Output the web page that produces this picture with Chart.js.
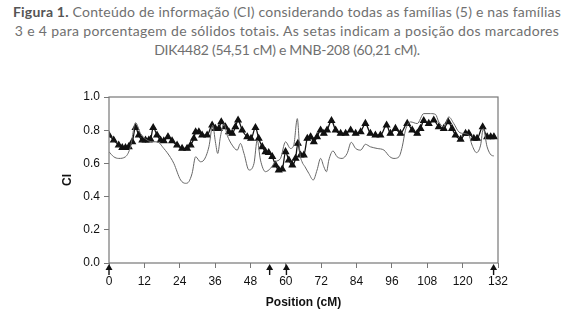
<!DOCTYPE html>
<html>
<head>
<meta charset="utf-8">
<script src="https://cdn.jsdelivr.net/npm/chart.js@4.4.1/dist/chart.umd.min.js"></script>
<style>
  html, body { margin: 0; padding: 0; background: #fff; }
  #wrap { position: relative; width: 574px; height: 322px; overflow: hidden; }
  #caption {
    position: absolute; left: 0; top: 2px; width: 574px;
    text-align: center; font-family: Lato, sans-serif; font-size: 14px;
    line-height: 19px; color: #707070;
  }
  #caption span { display: inline-block; white-space: nowrap; }
  #caption b { color: #555; }
  canvas { position: absolute; left: 0; top: 0; }
</style>
</head>
<body>
<div id="wrap">
  <div id="caption">
    <span data-w="548"><b>Figura 1.</b> Conteúdo de informação (CI) considerando todas as famílias (5) e nas famílias</span><br>
    <span data-w="544">3 e 4 para porcentagem de sólidos totais. As setas indicam a posição dos marcadores</span><br>
    <span data-w="266">DIK4482 (54,51 cM) e MNB-208 (60,21 cM).</span>
  </div>
  <canvas id="ciChart" width="574" height="322"></canvas>
</div>
<script>
// posições (cM) e valores de CI
const allPos = [0, 1.6, 3.3, 4.5, 5.6, 6.7, 7.9, 9.0, 10.1, 11.3, 12.4, 13.5, 14.1, 15.0, 16.3, 17.5, 18.6, 20.0, 21.4, 23.1,
  24.8, 26.5, 27.7, 28.8, 29.4, 30.5, 31.6, 33.3, 35.0, 36.1, 37.3, 38.1, 39.5, 40.7, 41.8, 42.9, 43.8, 45.2, 46.9, 48.2,
  49.7, 50.8, 52.0, 53.1, 54.2, 55.4, 56.5, 57.6, 58.8, 59.9, 61.0, 62.2, 63.3, 64.1, 65.0, 66.1, 67.3, 68.4, 69.5, 70.6,
  71.8, 72.9, 74.0, 75.5, 76.9, 78.6, 80.3, 82.0, 83.7, 85.4, 87.0, 88.7, 90.4, 92.1, 94.2, 95.5, 97.2, 98.9, 101.2, 102.9,
  104.6, 105.7, 106.8, 108.5, 110.2, 111.9, 113.6, 115.1, 116.4, 117.6, 119.3, 121.0, 122.1, 123.8, 124.9, 126.8, 128.3, 129.5, 130.6];
const allCI = [0.77, 0.74, 0.71, 0.695, 0.695, 0.70, 0.73, 0.815, 0.77, 0.74, 0.74, 0.74, 0.745, 0.815, 0.77, 0.74, 0.735, 0.76, 0.735, 0.71,
  0.69, 0.69, 0.71, 0.75, 0.79, 0.79, 0.77, 0.77, 0.83, 0.81, 0.81, 0.85, 0.82, 0.79, 0.78, 0.82, 0.86, 0.80, 0.76, 0.75,
  0.815, 0.75, 0.70, 0.67, 0.665, 0.64, 0.59, 0.56, 0.565, 0.67, 0.62, 0.59, 0.63, 0.72, 0.65, 0.65, 0.75, 0.76, 0.73, 0.76,
  0.80, 0.78, 0.80, 0.857, 0.80, 0.78, 0.78, 0.80, 0.78, 0.79, 0.84, 0.78, 0.77, 0.77, 0.83, 0.78, 0.81, 0.78, 0.84, 0.80,
  0.78, 0.81, 0.857, 0.84, 0.86, 0.82, 0.81, 0.85, 0.81, 0.77, 0.745, 0.78, 0.78, 0.75, 0.75, 0.82, 0.76, 0.76, 0.76];

const famPos = [0, 1.6, 3.3, 5.6, 7.3, 9.0, 10.7, 13.0, 14.7, 16.3, 18.6, 20.9, 22.0, 24.3, 26.0, 27.1, 28.2, 29.4, 31.0, 32.2,
  33.9, 35.2, 36.1, 36.9, 37.8, 39.0, 40.1, 41.8, 43.5, 44.6, 45.8, 47.5, 49.2, 50.3, 51.4, 53.1, 54.8, 56.5, 58.2, 59.9,
  61.6, 62.7, 63.9, 64.8, 65.5, 66.5, 67.8, 69.3, 70.6, 71.8, 72.9, 73.8, 74.6, 76.0, 77.4, 79.1, 80.8, 82.2, 83.7, 85.4,
  87.0, 88.7, 91.0, 93.3, 95.3, 96.7, 98.4, 99.5, 100.6, 102.3, 104.6, 106.8, 109.1, 110.8, 111.9, 113.6, 115.3, 117.0, 118.7, 120.4,
  122.1, 123.2, 124.7, 126.1, 127.0, 128.3, 129.7, 130.6];
const famCI = [0.67, 0.64, 0.63, 0.64, 0.70, 0.845, 0.78, 0.74, 0.73, 0.73, 0.69, 0.635, 0.60, 0.50, 0.48, 0.49, 0.54, 0.64, 0.61, 0.62,
  0.70, 0.83, 0.73, 0.66, 0.76, 0.84, 0.77, 0.71, 0.68, 0.72, 0.66, 0.56, 0.60, 0.74, 0.62, 0.55, 0.57, 0.61, 0.63, 0.73,
  0.69, 0.71, 0.87, 0.66, 0.61, 0.58, 0.54, 0.50, 0.56, 0.63, 0.58, 0.55, 0.62, 0.675, 0.64, 0.63, 0.66, 0.727, 0.69, 0.68,
  0.715, 0.70, 0.69, 0.68, 0.64, 0.63, 0.64, 0.70, 0.80, 0.85, 0.84, 0.90, 0.90, 0.895, 0.85, 0.82, 0.88, 0.84, 0.79, 0.78,
  0.77, 0.71, 0.665, 0.71, 0.81, 0.70, 0.65, 0.645];

const xTicks = [0, 12, 24, 36, 48, 60, 72, 84, 96, 108, 120, 132];
const arrowPos = [0, 54.51, 60.21, 130.5];

const toPoints = (xs, ys) => xs.map((x, i) => ({ x: x, y: ys[i] }));

// ajusta o espaçamento das linhas da legenda à largura da figura original
document.querySelectorAll("#caption span").forEach((el) => {
  const target = +el.dataset.w;
  const natural = el.getBoundingClientRect().width;
  const n = el.textContent.length - 1;
  el.style.letterSpacing = ((target - natural) / n).toFixed(3) + "px";
});

// moldura do gráfico
const framePlugin = {
  id: "frame",
  afterDraw(chart) {
    const { ctx, chartArea: a } = chart;
    ctx.save();
    ctx.strokeStyle = "#777";
    ctx.lineWidth = 1.2;
    ctx.strokeRect(a.left, a.top, a.right - a.left, a.bottom - a.top);
    ctx.restore();
  },
};

// setas abaixo do eixo x
const arrowPlugin = {
  id: "arrows",
  afterDraw(chart) {
    const { ctx } = chart;
    const xs = chart.scales.x;
    const base = chart.chartArea.bottom;
    ctx.save();
    ctx.strokeStyle = "#111";
    ctx.fillStyle = "#111";
    ctx.lineWidth = 1.4;
    arrowPos.forEach((p) => {
      const x = xs.getPixelForValue(p);
      ctx.beginPath();
      ctx.moveTo(x, base + 12);
      ctx.lineTo(x, base + 4);
      ctx.stroke();
      ctx.beginPath();
      ctx.moveTo(x, base + 1);
      ctx.lineTo(x - 3.5, base + 7);
      ctx.lineTo(x + 3.5, base + 7);
      ctx.closePath();
      ctx.fill();
    });
    ctx.restore();
  },
};

const tickFont = { family: "Arial, 'Liberation Sans', sans-serif", size: 12 };

new Chart(document.getElementById("ciChart"), {
  type: "line",
  data: {
    datasets: [
      {
        label: "famílias 3 e 4",
        data: toPoints(famPos, famCI),
        borderColor: "#666",
        borderWidth: 1,
        pointRadius: 0,
        cubicInterpolationMode: "monotone",
      },
      {
        label: "todas as famílias",
        data: toPoints(allPos, allCI),
        borderColor: "#111",
        backgroundColor: "#111",
        borderWidth: 1.3,
        pointStyle: "triangle",
        pointRadius: 3.4,
        cubicInterpolationMode: "monotone",
      },
    ],
  },
  options: {
    responsive: false,
    animation: false,
    devicePixelRatio: 1,
    layout: { padding: { left: 0, top: 97, right: 76, bottom: 0 } },
    plugins: { legend: { display: false }, tooltip: { enabled: false } },
    scales: {
      x: {
        type: "linear",
        min: 0,
        max: 132,
        afterFit(s) { s.height = 59; },
        afterBuildTicks(s) { s.ticks = xTicks.map((v) => ({ value: v })); },
        grid: { display: true, drawOnChartArea: false, drawTicks: true, tickLength: 5, color: "#777" },
        border: { display: false },
        ticks: { color: "#111", font: tickFont, padding: 6, maxRotation: 0 },
        title: {
          display: true,
          text: "Position (cM)",
          color: "#111",
          font: { family: "Arial, 'Liberation Sans', sans-serif", size: 12, weight: "bold" },
          padding: { top: 0, bottom: 12 },
        },
      },
      y: {
        min: 0,
        max: 1,
        afterFit(s) { s.width = 109; },
        grid: { display: true, drawOnChartArea: false, drawTicks: true, tickLength: 5, color: "#777" },
        border: { display: false },
        ticks: { stepSize: 0.2, color: "#111", font: tickFont, padding: 4, callback: (v) => v.toFixed(1) },
        title: {
          display: true,
          text: "CI",
          color: "#111",
          font: { family: "Arial, 'Liberation Sans', sans-serif", size: 12, weight: "bold" },
          padding: { top: 60, bottom: 0 },
        },
      },
    },
  },
  plugins: [framePlugin, arrowPlugin],
});
</script>
</body>
</html>
